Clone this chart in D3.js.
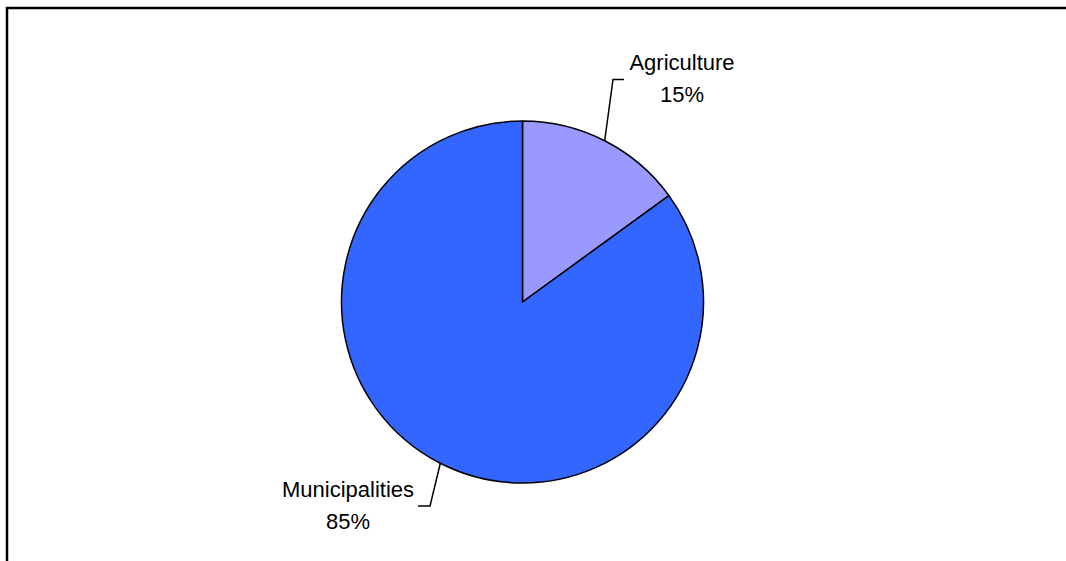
<!DOCTYPE html>
<html>
<head>
<meta charset="utf-8">
<script src="https://cdn.jsdelivr.net/npm/d3@7"></script>
<style>
	html, body { margin: 0; padding: 0; background: #fff; }
	svg { display: block; }
	text { font-family: "Liberation Sans", Arial, sans-serif; font-size: 22px; fill: #000; }
</style>
</head>
<body>
<div id="chart"></div>
<script>
const categories = ["Agriculture", "Municipalities"];
const shares = [15, 85];
const colors = ["#9999ff", "#3366ff"];

const width = 1066;
const height = 561;
const cx = 522.5, cy = 302, radius = 181;

// where each label sits (elbow point, label anchor), by slice index
const labelLayout = [
	{ elbow: [613, 79.5], end: [624, 79.5], text: [682, 70] },
	{ elbow: [430, 506], end: [418, 506], text: [348, 497] }
];

const svg = d3.select("#chart").append("svg")
	.attr("width", width)
	.attr("height", height);

// outer frame (top and left edges only)
svg.append("path")
	.attr("d", `M7,${height} V8 H${width}`)
	.attr("fill", "none")
	.attr("stroke", "#000")
	.attr("stroke-width", 2.5);

const data = categories.map((c, i) => ({ name: c, value: shares[i], color: colors[i] }));

const pie = d3.pie()
	.sort(null)
	.value(d => d.value);

const arc = d3.arc()
	.innerRadius(0)
	.outerRadius(radius);

const g = svg.append("g")
	.attr("transform", `translate(${cx},${cy})`);

const arcs = pie(data);

g.selectAll("path.slice")
	.data(arcs)
	.enter().append("path")
	.attr("class", "slice")
	.attr("d", arc)
	.attr("fill", d => d.data.color)
	.attr("stroke", "#000")
	.attr("stroke-width", 1.5)
	.attr("stroke-linejoin", "round");

// leader lines
arcs.forEach((d, i) => {
	const a = (d.startAngle + d.endAngle) / 2;
	const sx = cx + radius * Math.sin(a);
	const sy = cy - radius * Math.cos(a);
	const lay = labelLayout[i];
	svg.append("path")
		.attr("d", `M${sx},${sy} L${lay.elbow[0]},${lay.elbow[1]} L${lay.end[0]},${lay.end[1]}`)
		.attr("fill", "none")
		.attr("stroke", "#000")
		.attr("stroke-width", 1.5);

	const t = svg.append("text")
		.attr("x", lay.text[0])
		.attr("y", lay.text[1])
		.attr("text-anchor", "middle");
	t.append("tspan")
		.attr("x", lay.text[0])
		.text(d.data.name);
	t.append("tspan")
		.attr("x", lay.text[0])
		.attr("dy", 32)
		.text(d3.format(".0f")(d.data.value) + "%");
});
</script>
</body>
</html>
